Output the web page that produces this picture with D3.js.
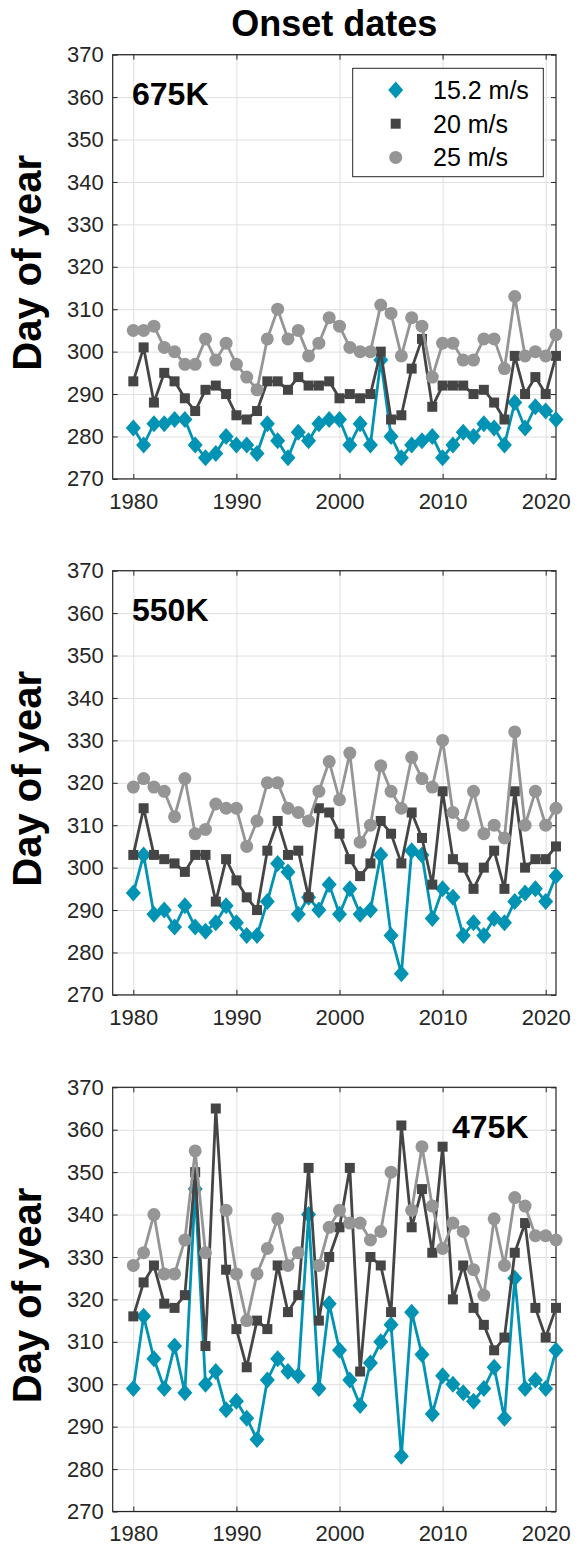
<!DOCTYPE html>
<html>
<head>
<meta charset="utf-8">
<script src="https://cdn.jsdelivr.net/npm/d3@7"></script>
<style>
  body { margin: 0; background: #fff; }
  svg text { font-family: "Liberation Sans", Arial, Helvetica, sans-serif; }
</style>
</head>
<body>
<div id="chart"></div>
<script>
// years on the x axis
var years = [1980, 1981, 1982, 1983, 1984, 1985, 1986, 1987, 1988, 1989,
  1990, 1991, 1992, 1993, 1994, 1995, 1996, 1997, 1998, 1999,
  2000, 2001, 2002, 2003, 2004, 2005, 2006, 2007, 2008, 2009,
  2010, 2011, 2012, 2013, 2014, 2015, 2016, 2017, 2018, 2019,
  2020, 2021];

var seriesNames = ['15.2 m/s', '20 m/s', '25 m/s'];
var levelNames = ['675K', '550K', '475K'];

var xTicks = [1980, 1990, 2000, 2010, 2020];
var yTicks = [270, 280, 290, 300, 310, 320, 330, 340, 350, 360, 370];

// 675K
var k675_v15 = [282, 278, 283, 283, 284, 284, 278, 275, 276, 280, 278, 278, 276, 283, 279, 275, 281, 279, 283, 284,
  284, 278, 283, 278, 298, 280, 275, 278, 279, 280, 275, 278, 281, 280, 283, 282, 278, 288, 282, 287, 286, 284];
var k675_v20 = [293, 301, 288, 295, 293, 289, 286, 291, 292, 290, 285, 284, 286, 293, 293, 291, 294, 292, 292, 293,
  289, 290, 289, 290, 300, 284, 285, 296, 303, 287, 292, 292, 292, 290, 291, 288, 284, 299, 290, 294, 290, 299];
var k675_v25 = [305, 305, 306, 301, 300, 297, 297, 303, 298, 302, 297, 294, 291, 303, 310, 303, 305, 299, 302, 308,
  306, 301, 300, 300, 311, 309, 299, 308, 306, 294, 302, 302, 298, 298, 303, 303, 296, 313, 299, 300, 299, 304];

// 550K
var k550_v15 = [294, 303, 289, 290, 286, 291, 286, 285, 287, 291, 287, 284, 284, 292, 301, 299, 289, 293, 290, 296,
  289, 295, 289, 290, 303, 284, 275, 304, 303, 288, 295, 293, 284, 287, 284, 288, 287, 292, 294, 295, 292, 298];
var k550_v20 = [303, 314, 303, 302, 301, 299, 303, 303, 292, 302, 297, 293, 290, 304, 311, 303, 304, 293, 314, 313,
  308, 302, 298, 301, 311, 308, 301, 313, 307, 296, 318, 302, 300, 295, 300, 304, 295, 318, 300, 302, 302, 305];
var k550_v25 = [319, 321, 319, 318, 312, 321, 308, 309, 315, 314, 314, 305, 311, 320, 320, 314, 313, 311, 318, 325,
  316, 327, 306, 310, 324, 318, 314, 326, 321, 319, 330, 313, 310, 318, 308, 310, 307, 332, 310, 318, 310, 314];

// 475K (null = no onset that year)
var k475_v15 = [299, 316, 306, 299, 309, 298, 346, 300, 303, 294, 296, 292, 287, 301, 306, 303, 302, 340, 299, 319,
  308, 301, 295, 305, 310, 314, 283, 317, 307, 293, 302, 300, 298, 296, 299, 304, 292, 325, 299, 301, 299, 308];
var k475_v20 = [316, 324, 328, 319, 318, 321, 350, 309, 365, 327, 313, 304, 315, 313, 328, 317, 321, 351, 315, 330,
  337, 351, 303, 330, 328, 317, 361, 337, 346, 331, 356, 320, 328, 318, 314, 308, 311, 331, 338, 318, 311, 318];
var k475_v25 = [328, 331, 340, 326, 326, 334, 355, 331, null, 341, 326, 315, 326, 332, 339, 328, 331, null, 328, 337,
  341, 338, 338, 334, 336, 350, null, 341, 356, 342, 332, 338, 336, 327, 321, 339, 328, 344, 342, 335, 335, 334];

var panelData = [
  [k675_v15, k675_v20, k675_v25],
  [k550_v15, k550_v20, k550_v25],
  [k475_v15, k475_v20, k475_v25]
];

var colors = ['#0093b4', '#454545', '#959595'];
var axisColor = '#262626';

var width = 578, height = 1551;
var left = 112.7, right = 556;
var panelTops = [54.7, 570.7, 1087.3];
var panelH = 424.2;

var svg = d3.select('#chart').append('svg')
  .attr('width', width)
  .attr('height', height);

var x = d3.scaleLinear().domain([1978, 2021]).range([left, right]);

// marker shapes
function drawMarker(sel, k) {
  if (k === 0) {
    sel.append('path').attr('d', 'M0,-8.5L7.5,0L0,8.5L-7.5,0Z');
  } else if (k === 1) {
    sel.append('rect').attr('x', -5).attr('y', -5).attr('width', 10).attr('height', 10);
  } else {
    sel.append('circle').attr('r', 6.5);
  }
}

svg.append('text')
  .attr('x', (left + right) / 2)
  .attr('y', 36)
  .attr('text-anchor', 'middle')
  .style('font-size', '36px')
  .style('font-weight', 'bold')
  .text('Onset dates');

panelData.forEach(function(series, p) {
  var top = panelTops[p];
  var y = d3.scaleLinear().domain([270, 370]).range([top + panelH, top]);
  var g = svg.append('g');

  // grid
  g.append('g')
    .attr('transform', 'translate(0,' + (top + panelH) + ')')
    .call(d3.axisBottom(x).tickValues(xTicks).tickSize(-panelH).tickFormat(''))
    .call(function(a) {
      a.select('.domain').remove();
      a.selectAll('line').attr('stroke', '#dfdfdf');
    });
  g.append('g')
    .attr('transform', 'translate(' + left + ',0)')
    .call(d3.axisLeft(y).tickValues(yTicks).tickSize(-(right - left)).tickFormat(''))
    .call(function(a) {
      a.select('.domain').remove();
      a.selectAll('line').attr('stroke', '#dfdfdf');
    });

  // axes with inward ticks
  var axB = g.append('g')
    .attr('transform', 'translate(0,' + (top + panelH) + ')')
    .call(d3.axisBottom(x).tickValues(xTicks).tickSizeInner(-5).tickSizeOuter(0).tickPadding(14).tickFormat(d3.format('d')));
  var axL = g.append('g')
    .attr('transform', 'translate(' + left + ',0)')
    .call(d3.axisLeft(y).tickValues(yTicks).tickSizeInner(-5).tickSizeOuter(0).tickPadding(9));
  var axT = g.append('g')
    .attr('transform', 'translate(0,' + top + ')')
    .call(d3.axisTop(x).tickValues(xTicks).tickSizeInner(-5).tickSizeOuter(0).tickFormat(''));
  var axR = g.append('g')
    .attr('transform', 'translate(' + right + ',0)')
    .call(d3.axisRight(y).tickValues(yTicks).tickSizeInner(-5).tickSizeOuter(0).tickFormat(''));

  [axB, axL, axT, axR].forEach(function(a) {
    a.select('.domain').remove();
    a.selectAll('line').attr('stroke', axisColor);
    a.selectAll('text')
      .attr('fill', axisColor)
      .style('font-size', '22px')
      .style('font-family', '"Liberation Sans", Arial, Helvetica, sans-serif');
  });

  g.append('rect')
    .attr('x', left).attr('y', top)
    .attr('width', right - left).attr('height', panelH)
    .attr('fill', 'none')
    .attr('stroke', axisColor)
    .attr('stroke-width', 1.2);

  // y label
  g.append('text')
    .attr('transform', 'translate(41,' + (top + panelH / 2 - 4) + ') rotate(-90)')
    .attr('text-anchor', 'middle')
    .style('font-size', '40px')
    .style('font-weight', 'bold')
    .text('Day of year');

  // series: 15.2 first, 25 on top
  series.forEach(function(vals, k) {
    var pts = years.map(function(yr, i) { return {year: yr, v: vals[i]}; });
    var line = d3.line()
      .defined(function(d) { return d.v !== null; })
      .x(function(d) { return x(d.year); })
      .y(function(d) { return y(d.v); });

    g.append('path')
      .datum(pts)
      .attr('d', line)
      .attr('fill', 'none')
      .attr('stroke', colors[k])
      .attr('stroke-width', 2.8)
      .attr('stroke-linejoin', 'round');

    g.selectAll('.m' + k)
      .data(pts.filter(function(d) { return d.v !== null; }))
      .enter()
      .append('g')
      .attr('class', 'm' + k)
      .attr('fill', colors[k])
      .attr('transform', function(d) { return 'translate(' + x(d.year) + ',' + y(d.v) + ')'; })
      .each(function() { drawMarker(d3.select(this), k); });
  });

  // level label
  var lab = g.append('text')
    .style('font-size', '32px')
    .style('font-weight', 'bold')
    .text(levelNames[p]);
  if (p < 2) {
    lab.attr('x', 132).attr('y', top + 50.5);
  } else {
    lab.attr('x', 452).attr('y', top + 50.5);
  }
});

// legend in the top panel
var leg = svg.append('g');
leg.append('rect')
  .attr('x', 352.7).attr('y', 68.3)
  .attr('width', 190.6).attr('height', 108.4)
  .attr('fill', '#fff')
  .attr('stroke', axisColor)
  .attr('stroke-width', 1);

seriesNames.forEach(function(name, k) {
  var ly = 90 + k * 33.7;
  var m = leg.append('g')
    .attr('fill', colors[k])
    .attr('transform', 'translate(395.7,' + ly + ')');
  drawMarker(m, k);
  leg.append('text')
    .attr('x', 433)
    .attr('y', ly + 9)
    .style('font-size', '25px')
    .attr('fill', '#000')
    .text(name);
});
</script>
</body>
</html>
